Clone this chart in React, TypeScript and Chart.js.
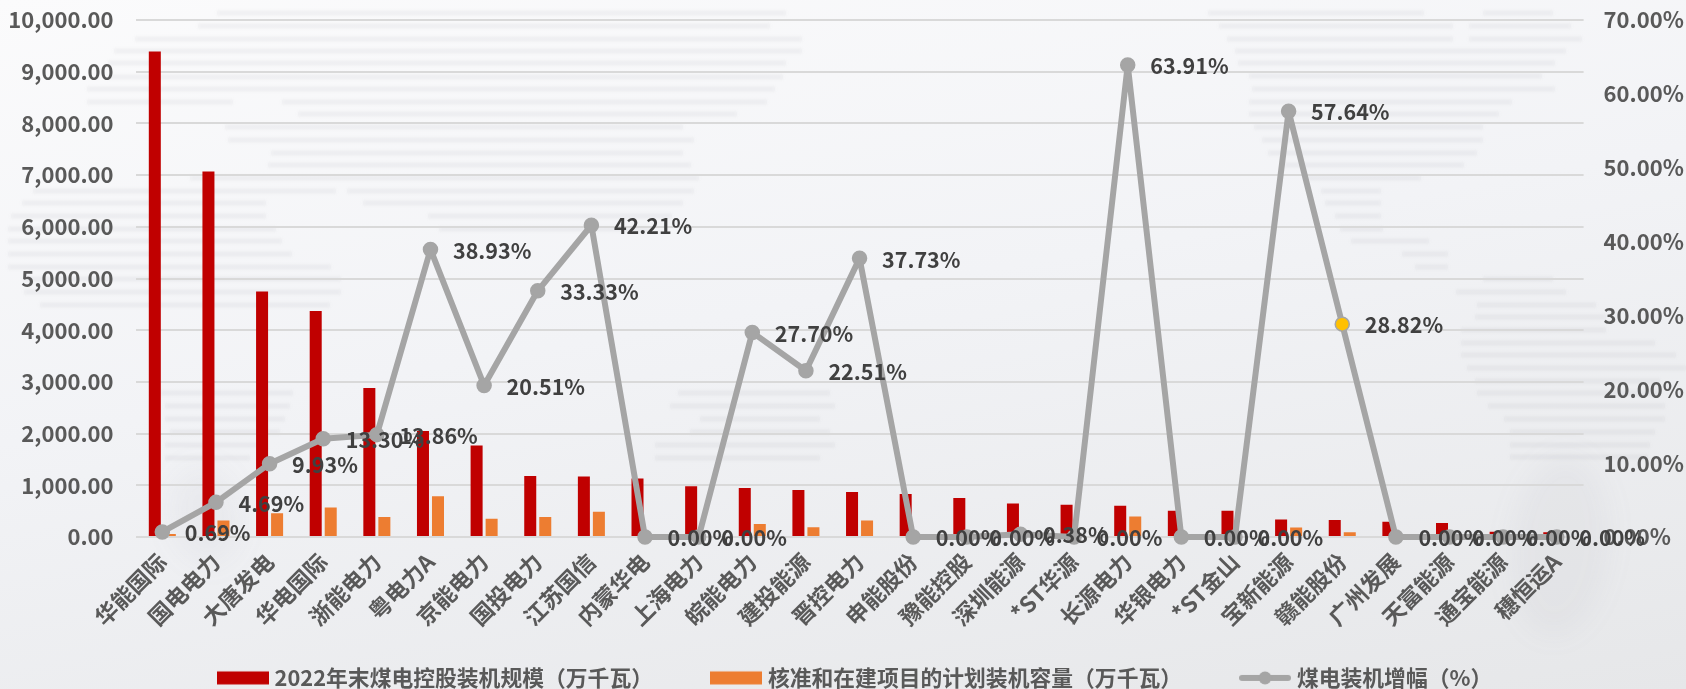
import React, { useEffect, useRef } from "react";
import { Chart, registerables } from "chart.js";

Chart.register(...registerables);

const companies = ["华能国际", "国电电力", "大唐发电", "华电国际", "浙能电力", "粤电力A", "京能电力", "国投电力", "江苏国信", "内蒙华电", "上海电力", "皖能电力", "建投能源", "晋控电力", "申能股份", "豫能控股", "深圳能源", "*ST华源", "长源电力", "华银电力", "*ST金山", "宝新能源", "赣能股份", "广州发展", "天富能源", "通宝能源", "穗恒运A"];
const installedCapacity = [9390, 7070, 4750, 4370, 2880, 2050, 1770, 1180, 1170, 1130, 980, 950, 910, 870, 830, 755, 650, 625, 605, 510, 510, 340, 330, 295, 270, 100, 90];
const plannedCapacity = [60, 320, 460, 570, 385, 790, 355, 385, 490, 0, 0, 250, 190, 320, 0, 0, 0, 0, 395, 0, 0, 185, 90, 0, 0, 0, 0];
const growthPercent = [0.69, 4.69, 9.93, 13.3, 13.86, 38.93, 20.51, 33.33, 42.21, 0, 0, 27.7, 22.51, 37.73, 0, 0, 0.38, 0, 63.91, 0, 0, 57.64, 28.82, 0, 0, 0, 0];
const highlightedCompany = "赣能股份";

const seriesNames = ["2022年末煤电控股装机规模（万千瓦）", "核准和在建项目的计划装机容量（万千瓦）", "煤电装机增幅（%）"];
const FONT = '"Noto Sans CJK SC", "Noto Sans", sans-serif';

// Faint world-map texture behind the plot, built from soft horizontal strokes: [x0, x1, y].
const mapStrokes: number[][] = [
  [217, 786, 13], [198, 770, 26], [135, 802, 39], [114, 802, 51], [108, 786, 63], [108, 783, 77],
  [87, 775, 89], [87, 233, 102], [282, 767, 102], [298, 737, 114], [225, 683, 127], [228, 694, 140],
  [271, 683, 153], [268, 691, 165], [190, 699, 178], [33, 336, 191], [347, 694, 191], [22, 266, 203],
  [363, 683, 203], [11, 266, 216], [428, 672, 216], [8, 276, 229], [439, 650, 229], [8, 282, 241],
  [8, 292, 254], [8, 331, 267], [24, 341, 279], [24, 341, 292], [40, 330, 305],
  [160, 293, 393], [165, 290, 406], [165, 285, 419], [170, 280, 432], [165, 260, 445], [165, 250, 458],
  [678, 830, 393], [670, 835, 406], [700, 820, 419], [690, 830, 432], [655, 835, 445], [655, 820, 458],
  [1208, 1424, 13], [1483, 1553, 13], [1219, 1453, 26], [1469, 1571, 26], [1227, 1453, 39], [1469, 1582, 39],
  [1235, 1566, 51], [1238, 1555, 63], [1249, 1542, 76], [1252, 1555, 89], [1249, 1512, 102], [1249, 1499, 114],
  [1254, 1483, 127], [1262, 1483, 140], [1268, 1477, 153], [1284, 1464, 165], [1305, 1421, 178], [1321, 1381, 191],
  [1325, 1381, 203], [1335, 1381, 216], [1340, 1383, 229], [1351, 1429, 241], [1402, 1448, 254], [1415, 1448, 267],
  [1483, 1553, 279], [1456, 1566, 292], [1477, 1596, 305], [1475, 1606, 317], [1461, 1606, 330], [1461, 1655, 343],
  [1461, 1676, 355], [1467, 1686, 368], [1475, 1660, 381], [1477, 1660, 393], [1488, 1665, 406], [1504, 1665, 419],
  [1510, 1655, 432], [1510, 1650, 445], [1510, 1648, 457],
];

const mapTexture = {
  id: "mapTexture",
  beforeDraw(chart: any) {
    const { ctx } = chart;
    ctx.save();
    ctx.filter = "blur(1.5px)";
    ctx.strokeStyle = "rgba(125,130,140,0.08)";
    ctx.lineWidth = 5;
    for (const [x0, x1, y] of mapStrokes) {
      ctx.beginPath();
      ctx.moveTo(x0, y);
      ctx.lineTo(x1, y);
      ctx.stroke();
    }
    // Soft land masses at the foot of the map
    ctx.filter = "blur(14px)";
    ctx.fillStyle = "rgba(120,125,135,0.05)";
    ctx.beginPath();
    ctx.ellipse(1560, 545, 48, 90, 0.1, 0, Math.PI * 2);
    ctx.ellipse(205, 515, 36, 50, -0.2, 0, Math.PI * 2);
    ctx.fill();
    ctx.restore();
  },
};

// Percentage captions placed to the right of each point of the line series.
const pointCaptions = {
  id: "pointCaptions",
  afterDatasetsDraw(chart: any) {
    const { ctx } = chart;
    const meta = chart.getDatasetMeta(0);
    ctx.save();
    ctx.font = `bold 21.5px ${FONT}`;
    ctx.fillStyle = "#404040";
    ctx.textAlign = "left";
    ctx.textBaseline = "middle";
    meta.data.forEach((pt: any, i: number) => {
      ctx.fillText(growthPercent[i].toFixed(2) + "%", pt.x + 22.5, pt.y + 1);
    });
    ctx.restore();
  },
};

// The rotated category labels run down beside the legend, so the legend is set lower and further right.
const legendPlacement = {
  id: "legendPlacement",
  afterLayout(chart: any) {
    chart.legend.top = 605;
    chart.legend.left += 28;
  },
};

function legendSwatch(kind: "bar" | "line", color: string) {
  const c = document.createElement("canvas");
  c.width = 52;
  c.height = 16;
  const g = c.getContext("2d")!;
  if (kind === "bar") {
    g.fillStyle = color;
    g.fillRect(0, 1.5, 52, 13);
  } else {
    g.strokeStyle = color;
    g.lineWidth = 6;
    g.lineCap = "round";
    g.beginPath();
    g.moveTo(3, 8);
    g.lineTo(49, 8);
    g.stroke();
    g.fillStyle = color;
    g.beginPath();
    g.arc(26, 8, 6.5, 0, Math.PI * 2);
    g.fill();
  }
  return c;
}

export default function App() {
  const ref = useRef<HTMLCanvasElement>(null);

  useEffect(() => {
    const isHighlighted = (i: number) => companies[i] === highlightedCompany;
    const chart = new Chart(ref.current!, {
      data: {
        labels: companies,
        datasets: [
          {
            type: "line",
            label: seriesNames[2],
            data: growthPercent,
            yAxisID: "percent",
            clip: false,
            borderColor: "#A5A5A5",
            borderWidth: 6,
            borderJoinStyle: "round",
            pointRadius: 7,
            pointBorderWidth: 1.5,
            pointBorderColor: "#A5A5A5",
            pointBackgroundColor: (c: any) => (isHighlighted(c.dataIndex) ? "#FFC000" : "#A5A5A5"),
            tension: 0,
            order: 0,
          },
          {
            type: "bar",
            label: seriesNames[0],
            data: installedCapacity,
            yAxisID: "capacity",
            backgroundColor: "#C00000",
            categoryPercentage: 0.56,
            barPercentage: 0.8,
            order: 1,
          },
          {
            type: "bar",
            label: seriesNames[1],
            data: plannedCapacity,
            yAxisID: "capacity",
            backgroundColor: "#ED7D31",
            categoryPercentage: 0.56,
            barPercentage: 0.8,
            order: 1,
          },
        ],
      } as any,
      options: {
        responsive: false,
        animation: false,
        layout: { padding: 0 },
        scales: {
          x: {
            afterFit: (s: any) => { s.height = 105; },
            grid: { display: false },
            border: { display: false },
            ticks: {
              color: "#595959",
              font: { family: FONT, size: 22.5, weight: "bold" },
              minRotation: 45,
              maxRotation: 45,
              autoSkip: false,
            },
          },
          capacity: {
            position: "left",
            min: 0,
            max: 10000,
            afterFit: (s: any) => { s.width = 135.5; s.paddingTop = 20; },
            grid: { color: "#D9D9D9", lineWidth: 2, drawTicks: false },
            border: { display: false },
            ticks: {
              stepSize: 1000,
              color: "#595959",
              padding: 22,
              font: { family: FONT, size: 22, weight: "bold", lineHeight: 1 },
              callback: (v: any) => Number(v).toLocaleString("en-US", { minimumFractionDigits: 2, maximumFractionDigits: 2 }),
            },
          },
          percent: {
            position: "right",
            min: 0,
            max: 70,
            afterFit: (s: any) => { s.width = 102.4; s.paddingTop = 20; },
            grid: { display: false },
            border: { display: false },
            ticks: {
              stepSize: 10,
              color: "#595959",
              padding: 12,
              font: { family: FONT, size: 22, weight: "bold", lineHeight: 1 },
              callback: (v: any) => Number(v).toFixed(2) + "%",
            },
          },
        },
        plugins: {
          title: { display: false },
          tooltip: { enabled: false },
          legend: {
            position: "bottom",
            maxHeight: 47,
            labels: {
              usePointStyle: true,
              pointStyleWidth: 42,
              padding: 62,
              color: "#595959",
              font: { family: FONT, size: 21.8, weight: "bold" },
              generateLabels: () => [
                { text: seriesNames[0], pointStyle: legendSwatch("bar", "#C00000"), datasetIndex: 1, fontColor: "#595959" },
                { text: seriesNames[1], pointStyle: legendSwatch("bar", "#ED7D31"), datasetIndex: 2, fontColor: "#595959" },
                { text: seriesNames[2], pointStyle: legendSwatch("line", "#A5A5A5"), datasetIndex: 0, fontColor: "#595959" },
              ],
            },
          },
        },
      } as any,
      plugins: [mapTexture, pointCaptions, legendPlacement],
    });
    return () => chart.destroy();
  }, []);

  return (
    <div
      style={{
        position: "fixed",
        left: 0,
        top: 0,
        width: 1686,
        height: 689,
        overflow: "hidden",
        background: "linear-gradient(170deg, #FBFBFC 0%, #F2F3F6 45%, #E6E7E9 100%)",
      }}
    >
      <canvas ref={ref} width={1686} height={689} style={{ display: "block" }} />
    </div>
  );
}
